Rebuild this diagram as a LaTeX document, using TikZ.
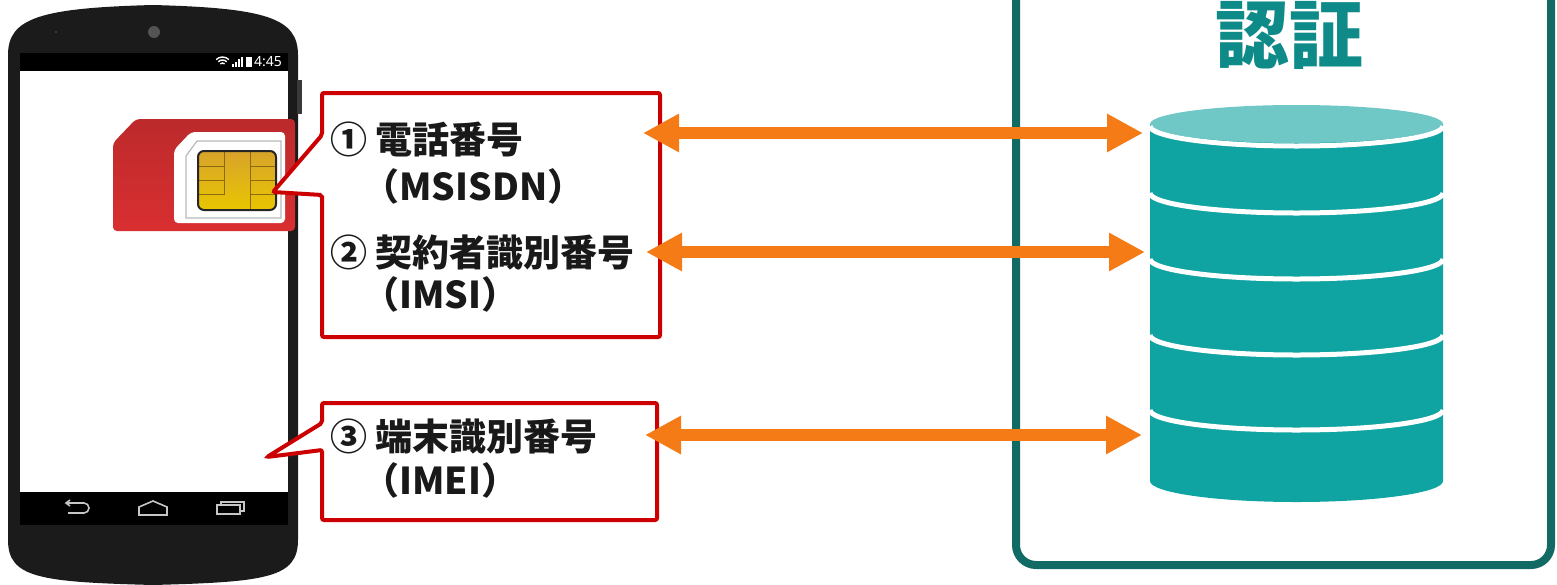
\documentclass[tikz,border=0pt]{standalone}
\usepackage{fontspec}
\newfontfamily\jpfont{Noto Sans CJK JP}
\newfontfamily\uifont{Noto Sans}
\usetikzlibrary{arrows.meta}

\definecolor{phonebody}{HTML}{1B1B1B}
\definecolor{simdark}{HTML}{BC2A2B}
\definecolor{simred}{HTML}{D92F31}
\definecolor{chiptop}{HTML}{D8A32B}
\definecolor{chipbot}{HTML}{E8C600}
\definecolor{chipline}{HTML}{8C6A12}
\definecolor{callred}{HTML}{CC0000}
\definecolor{syncorange}{HTML}{F47B16}
\definecolor{authline}{HTML}{126A64}
\definecolor{authtext}{HTML}{0E8B88}
\definecolor{dbtop}{HTML}{6FC8C6}
\definecolor{dbbody}{HTML}{0FA3A2}

\tikzset{
  callout/.style={draw=callred, line width=2pt, fill=white, rounded corners=1pt},
  sync/.style={draw=syncorange, line width=6pt,
    {Triangle[length=18pt,width=18pt]}-{Triangle[length=18pt,width=18pt]}},
  idtext/.style={anchor=west, inner sep=0pt, text=black!90,
    font=\jpfont\bfseries\fontsize{18.5}{20}\selectfont},
  navicon/.style={draw=gray!45, line width=0.8pt},
}

\begin{document}
\begin{tikzpicture}[x=0.5pt, y=-0.5pt]
  \useasboundingbox (0,0) rectangle (1557,584);

  % handset
  \fill[phonebody] (8,55) .. controls (8,18) and (40,8) .. (153,5)
    .. controls (266,8) and (298,18) .. (298,55) -- (298,540)
    .. controls (298,578) and (266,582) .. (153,585)
    .. controls (40,582) and (8,578) .. (8,540) -- cycle;
  \fill[gray!45!black] (297,80) rectangle (302,114);
  \fill[gray!65!black] (154,32) circle (6);
  \fill[gray!55!black] (56,32) circle (1.2);
  \fill[black] (20,53) rectangle (288,71);
  \fill[white] (20,71) rectangle (288,492);
  \fill[black] (20,492) rectangle (288,525);

  % status bar
  \foreach \r in {1.5,3,4.5}
    \draw[white, line width=0.7pt] (222.5,66) ++(135:\r pt) arc[start angle=135, end angle=45, radius=\r pt];
  \foreach \i in {0,...,3}
    \fill[white] ({232+3*\i},67) rectangle ({234+3*\i},{64-2.5*\i});
  \fill[white] (246,57) rectangle (252,67);
  \node[text=white, inner sep=0pt, font=\uifont\fontsize{7}{8}\selectfont] (clock) at (268,62) {4:45};

  % navigation keys
  \draw[navicon] (67,503) -- (84,503) arc[start angle=90, end angle=-90, radius=2.5pt] -- (68,513);
  \draw[navicon] (70,500) -- (66,503) -- (70,506);
  \draw[navicon] (139,507) -- (153,501) -- (167,507) -- (167,515) -- (139,515) -- cycle;
  \draw[navicon] (217,505) rectangle (240,514);
  \draw[navicon] (221,505) -- (221,502) -- (244,502) -- (244,511) -- (240,511);

  % SIM card
  \shade[top color=simdark, bottom color=simred, rounded corners=2pt]
    (113,143) -- (136,119) -- (295,119) -- (295,231) -- (113,231) -- cycle;
  \fill[white, rounded corners=2pt] (174,150) -- (191,132) -- (285,132) -- (285,223) -- (174,223) -- cycle;
  \draw[gray!55, line width=0.6pt] (186,156) -- (197,141) -- (281,141) -- (281,218) -- (186,218) -- cycle;
  \shade[top color=chiptop, bottom color=chipbot, rounded corners=3pt] (198,151) rectangle (276,210);
  \draw[chipline, line width=0.5pt] (224,151) -- (224,194) -- (198,194);
  \draw[chipline, line width=0.5pt] (250,151) -- (250,210);
  \foreach \y in {166,180} \draw[chipline, line width=0.5pt] (198,\y) -- (224,\y);
  \foreach \y in {166,180,194} \draw[chipline, line width=0.5pt] (250,\y) -- (276,\y);
  \draw[black!85, line width=1pt, rounded corners=3pt] (198,151) rectangle (276,210);

  % call-outs
  \draw[callout] (322,93) -- (660,93) -- (660,337) -- (322,337) -- (322,195) -- (273,192) -- (322,135) -- cycle;
  \draw[callout] (322,403) -- (657,403) -- (657,520) -- (322,520) -- (322,450) -- (267,457) -- (322,423) -- cycle;

  \node[idtext] (tel)   at (330,139) {① 電話番号};
  \node[idtext] (msisdn) at (362,186) {（MSISDN）};
  \node[idtext] (subid) at (330,252) {② 契約者識別番号};
  \node[idtext] (imsi)  at (362,294) {（IMSI）};
  \node[idtext] (devid) at (330,437) {③ 端末識別番号};
  \node[idtext] (imei)  at (362,480) {（IMEI）};

  % auth side
  \draw[authline, line width=4pt, rounded corners=10pt] (1016,-30) rectangle (1551,565);
  \node[text=authtext, inner sep=0pt, font=\jpfont\bfseries\fontsize{37}{40}\selectfont] (auth) at (1289,35) {認証};

  % database stack
  \fill[dbbody] (1150,124) -- (1150,481) arc[start angle=180, end angle=360, x radius=73.25pt, y radius=10.5pt] -- (1443,124) -- cycle;
  \fill[dbtop] (1296.5,124) ellipse[x radius=73.25pt, y radius=9.5pt];
  \foreach \y in {126,193,259,335,410}
    \draw[white, line width=2.5pt] (1150,\y) arc[start angle=180, end angle=360, x radius=73.25pt, y radius=10pt];

  % links
  \foreach \n/\y/\xa/\xb in {1/133/643/1143, 2/252/646/1145, 3/435/645/1142} {
    \coordinate (l\n) at (\xa,\y);
    \coordinate (r\n) at (\xb,\y);
    \draw[sync] (l\n) -- (r\n);
  }
\end{tikzpicture}
\end{document}
